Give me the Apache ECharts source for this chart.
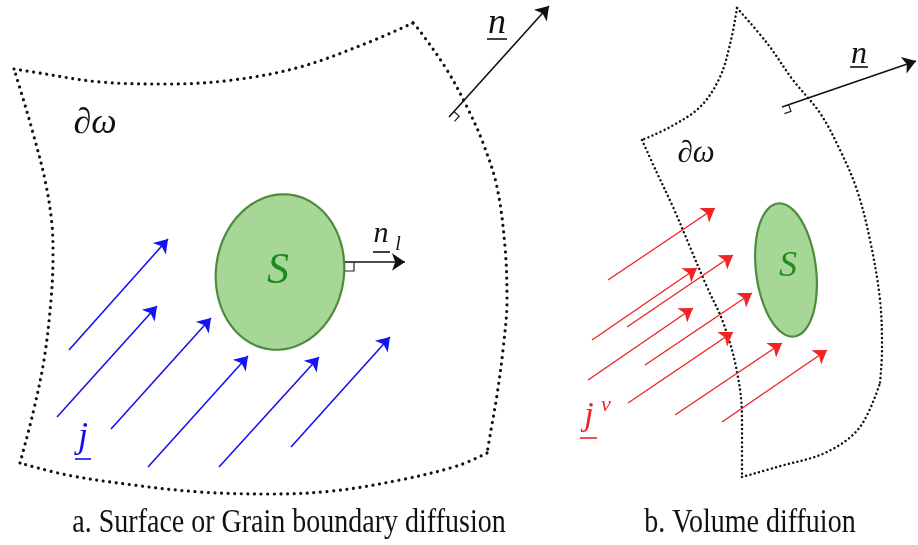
<!DOCTYPE html>
<html><head><meta charset="utf-8">
<script src="https://cdn.jsdelivr.net/npm/echarts@6/dist/echarts.min.js"></script>
<style>html,body{margin:0;padding:0;background:#fff}#c{width:918px;height:545px}</style>
</head><body><div id="c"></div>
<script>
// ---- geometry data (diagram coordinates, y downward) ----
const leftTopEdge = [[14,69],[33,72],[100,82],[167,84],[233,80],[300,67],[367,43],[413,23]];
const leftRightEdge = [[413,23],[420,31],[447,70],[467,107],[483,143],[497,187],[505,247],[507,300],[503,350],[497,395],[491,430],[487,453]];
const leftBottomEdge = [[487,453],[457,466],[400,480],[333,491],[270,494],[200,492],[133,485],[67,475],[20,463]];
const leftLeftEdge = [[20,463],[33,413],[44,360],[51,300],[53,255],[52,225],[45,180],[33,133],[22,95],[14,69]];

const rightTopEdge = [[737,8],[731,40],[720,77],[700,107],[670,127],[642,140]];
const rightLeftEdge = [[642,140],[657,173],[673,207],[690,247],[707,287],[723,322],[736,367],[742,417],[742,477]];
const rightBottomEdge = [[742,477],[777,467],[827,452],[860,427],[880,383]];
const rightRightEdge = [[737,8],[767,43],[793,80],[820,113],[840,150],[857,190],[870,240],[880,300],[882,350],[880,383]];

// ellipses: [cx, cy, rx, ry, tilt(deg)]
const grains = [[280,272,64,78,8],[786,270,30,67,-7]];

const blueArrows = [
  [[69,350],[168,239]],
  [[57,417],[157,306]],
  [[111,429],[211,318]],
  [[148,467],[248,356]],
  [[219,467],[319,357]],
  [[291,447],[390,337]]
];
const redArrows = [
  [[608,280],[715,208]],
  [[592,340],[697,268]],
  [[627,327],[733,255]],
  [[588,380],[693,308]],
  [[645,365],[752,293]],
  [[628,403],[733,332]],
  [[675,415],[782,343]],
  [[722,422],[827,350]]
];
const normalArrows = [
  [[449,117],[549,6]],
  [[345,262],[405,262]],
  [[782,107],[916,61]]
];
const rightAngleMarks = [
  [[454,111.5],[459.2,116.2],[454.5,121.4]],
  [[354,262],[354,271],[345,271]],
  [[788.6,104.7],[791,111.3],[784.4,113.6]]
];

// labels
const mathLabels = ['∂ω','∂ω','n','n','n','l','S','S','j','j','v'];
const mathPos = [[95,124],[696,154],[497,24],[859,55],[381,234],[398,245],[278,271],[788,267],[83,438],[589,416],[606,405]];
const mathSize = [36,31,36,32,30,20,44,36,36,34,22];
const mathColor = ['#111','#111','#111','#111','#111','#111','#1f8a1f','#1f8a1f','#1010ee','#ee2222','#ee2222'];
const underlines = [
  [[487,39],[507,39],'#111'],
  [[850,67],[868,67],'#111'],
  [[373,252],[390,252],'#111'],
  [[75,459],[91,459],'#1010ee'],
  [[580,438],[597,438],'#ee2222']
];
const captions = ['a. Surface or Grain boundary diffusion','b. Volume diffuion'];
const captionPos = [[289,523],[750,523]];

// ---- chart ----
const chart = echarts.init(document.getElementById('c'), null, {renderer:'canvas'});

function edgeSeries(pts, w, gap){
  return {type:'line', data:pts, smooth:0.35, showSymbol:false, silent:true, z:1,
    lineStyle:{color:'#111', width:w, type:[0.01,gap], cap:'round'}};
}
const edges = [];
[leftTopEdge,leftRightEdge,leftBottomEdge,leftLeftEdge].forEach(e=>edges.push(edgeSeries(e,3.2,6.6)));
[rightTopEdge,rightLeftEdge,rightBottomEdge,rightRightEdge].forEach(e=>edges.push(edgeSeries(e,2.5,4.4)));

function arrowSeries(list,color,w){
  return {type:'lines', coordinateSystem:'cartesian2d', silent:true, z:3,
    symbol:['none','arrow'], symbolSize:[9,13],
    lineStyle:{color:color, width:w, opacity:1},
    data:list.map(a=>({coords:a}))};
}

const option = {
  animation:false,
  backgroundColor:'#fff',
  grid:{left:0,right:0,top:0,bottom:0},
  xAxis:{type:'value',min:0,max:918,show:false},
  yAxis:{type:'value',min:0,max:545,inverse:true,show:false},
  series:[
    ...edges,
    {type:'custom', silent:true, z:2, data:grains,
      renderItem:function(params,api){
        const cx=api.value(0), cy=api.value(1), rx=api.value(2), ry=api.value(3), a=api.value(4)*Math.PI/180;
        const pts=[];
        for(let i=0;i<120;i++){
          const t=i/120*2*Math.PI;
          const x=rx*Math.cos(t), y=ry*Math.sin(t);
          pts.push(api.coord([cx+x*Math.cos(a)-y*Math.sin(a), cy+x*Math.sin(a)+y*Math.cos(a)]));
        }
        return {type:'polygon', shape:{points:pts}, style:{fill:'#a6d796', stroke:'#4d8b3c', lineWidth:2.2}};
      }},
    arrowSeries(blueArrows,'#1414f0',1.6),
    arrowSeries(redArrows,'#f02424',1.4),
    arrowSeries(normalArrows,'#111',1.6),
    {type:'custom', silent:true, z:3, data:rightAngleMarks.map((m,i)=>[i]),
      renderItem:function(params,api){
        const m=rightAngleMarks[params.dataIndex];
        return {type:'polyline', shape:{points:m.map(p=>api.coord(p))}, style:{stroke:'#222', lineWidth:1.2, fill:null}};
      }},
    {type:'custom', silent:true, z:4, data:underlines.map((u,i)=>[i]),
      renderItem:function(params,api){
        const u=underlines[params.dataIndex];
        const p1=api.coord(u[0]), p2=api.coord(u[1]);
        return {type:'line', shape:{x1:p1[0],y1:p1[1],x2:p2[0],y2:p2[1]}, style:{stroke:u[2], lineWidth:1.6}};
      }},
    {type:'custom', silent:true, z:5, data:mathPos.map((p,i)=>[p[0],p[1],i]),
      renderItem:function(params,api){
        const i=params.dataIndex;
        const p=api.coord([api.value(0),api.value(1)]);
        return {type:'text', x:p[0], y:p[1], style:{text:mathLabels[i], fill:mathColor[i],
          font:'italic '+mathSize[i]+'px "Liberation Serif", "DejaVu Serif", serif',
          align:'center', verticalAlign:'middle', textAlign:'center', textVerticalAlign:'middle'}};
      }},
    {type:'custom', silent:true, z:5, data:captionPos.map((p,i)=>[p[0],p[1],i]),
      renderItem:function(params,api){
        const i=params.dataIndex;
        const p=api.coord([api.value(0),api.value(1)]);
        return {type:'text', x:p[0], y:p[1], scaleX:1, scaleY:1.18,
          style:{text:captions[i], fill:'#111',
          font:'28px "Liberation Serif", "DejaVu Serif", serif',
          align:'center', verticalAlign:'middle', textAlign:'center', textVerticalAlign:'middle'}};
      }}
  ]
};
chart.setOption(option);
</script></body></html>
